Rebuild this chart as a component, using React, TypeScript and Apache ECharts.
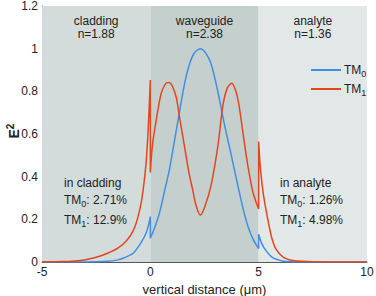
import React, { useEffect, useRef } from "react";
import * as echarts from "echarts";

// x ticks / y ticks
const xTicks = [-5, 0, 5, 10];
const yTicks = [0, 0.2, 0.4, 0.6, 0.8, 1, 1.2];
const yName = "E{sup|2}";

// region boundaries and labels
const regions = [
  { name: "cladding", n: "n=1.88", from: -5, to: 0, color: "#d3dcdb" },
  { name: "waveguide", n: "n=2.38", from: 0, to: 5, color: "#c5cfce" },
  { name: "analyte", n: "n=1.36", from: 5, to: 10, color: "#e2e8e7" },
];

// TM0
const tm0Cladding: [number, number][] = [
  [-5, 0], [-3, 0], [-2, 0.003], [-1.5, 0.01], [-1.2, 0.02], [-0.8, 0.04],
  [-0.6, 0.065], [-0.4, 0.095], [-0.2, 0.135], [-0.08, 0.175], [0, 0.213],
];
const tm0Waveguide: [number, number][] = [
  [0, 0.111], [0.2, 0.16], [0.42, 0.229], [0.65, 0.33], [0.88, 0.433], [1.1, 0.56],
  [1.34, 0.7], [1.57, 0.83], [1.77, 0.915], [2.0, 0.975], [2.31, 1.0], [2.55, 0.98],
  [2.8, 0.93], [3.12, 0.797], [3.43, 0.64], [3.74, 0.499], [4.04, 0.358],
  [4.27, 0.255], [4.5, 0.169], [4.75, 0.105], [5, 0.063],
];
const tm0Analyte: [number, number][] = [
  [5, 0.13], [5.15, 0.085], [5.32, 0.056], [5.63, 0.022], [6.1, 0.005],
  [6.5, 0.001], [7, 0], [10, 0],
];

// TM1
const tm1Cladding: [number, number][] = [
  [-5, 0], [-4, 0.002], [-3.5, 0.005], [-3, 0.011], [-2.5, 0.022], [-2, 0.04],
  [-1.5, 0.065], [-1.1, 0.1], [-0.8, 0.145], [-0.6, 0.2], [-0.4, 0.29],
  [-0.2, 0.46], [-0.1, 0.62], [0, 0.853],
];
const tm1Waveguide: [number, number][] = [
  [0, 0.42], [0.1, 0.55], [0.28, 0.67], [0.5, 0.79], [0.7, 0.835], [0.85, 0.841],
  [1.0, 0.828], [1.2, 0.77], [1.34, 0.684], [1.57, 0.546], [1.77, 0.425],
  [1.95, 0.34], [2.11, 0.265], [2.31, 0.22], [2.5, 0.255], [2.8, 0.358],
  [3.12, 0.546], [3.35, 0.734], [3.55, 0.815], [3.76, 0.838], [3.95, 0.8],
  [4.1, 0.73], [4.27, 0.609], [4.5, 0.452], [4.74, 0.326], [5, 0.248],
];
const tm1Analyte: [number, number][] = [
  [5, 0.565], [5.08, 0.44], [5.2, 0.33], [5.32, 0.255], [5.5, 0.16],
  [5.63, 0.104], [5.8, 0.06], [6.1, 0.025], [6.4, 0.011], [7, 0.003], [8, 0], [10, 0],
];

// annotations
const claddingNotes = ["in cladding", "TM{sub|0}: 2.71%", "TM{sub|1}: 12.9%"];
const analyteNotes = ["in analyte", "TM{sub|0}: 1.26%", "TM{sub|1}: 4.98%"];

const BLUE = "#3f8fe6";
const RED = "#e4461c";
const FONT = "Liberation Sans, Arial, sans-serif";

export default function App() {
  const ref = useRef<HTMLDivElement>(null);
  useEffect(() => {
    const chart = echarts.init(ref.current!, null, { renderer: "svg" });
    const gridLeft = 42, gridRight = 9, gridTop = 6, gridBottom = 34;
    const W = 376;
    const pw = W - gridLeft - gridRight;
    const xToPx = (x: number) => gridLeft + ((x + 5) / 15) * pw;
    const noteTexts: any[] = [];
    const noteY = [183, 200, 220];
    [claddingNotes, analyteNotes].forEach((notes, k) => {
      const x0 = k === 0 ? 64 : 280;
      notes.forEach((t, i) => {
        noteTexts.push({
          type: "text",
          x: x0,
          y: noteY[i],
          z: 100,
          style: {
            text: t,
            fontSize: 12,
            fontFamily: FONT,
            fill: "#222",
            verticalAlign: "middle",
            rich: { sub: { fontSize: 9, fontFamily: FONT, fill: "#222", padding: [7, 0, 0, 0] } },
          },
        });
      });
    });
    const regionTexts = regions.map((r) => ({
      type: "text",
      x: xToPx((r.from + r.to) / 2),
      y: 14,
      z: 100,
      style: {
        text: r.name + "\n" + r.n,
        fontSize: 12,
        fontFamily: FONT,
        fill: "#222",
        align: "center",
        verticalAlign: "top",
        lineHeight: 13,
      },
    }));
    const yNameText = {
      type: "text",
      x: 14,
      y: 131,
      rotation: Math.PI / 2,
      z: 100,
      style: {
        text: yName,
        fontSize: 14,
        fontWeight: "bold",
        fontFamily: FONT,
        fill: "#222",
        align: "center",
        verticalAlign: "middle",
        rich: { sup: { fontSize: 10, fontWeight: "bold", fontFamily: FONT, fill: "#222", padding: [0, 0, 8, 0] } },
      },
    };
    chart.setOption({
      animation: false,
      grid: {
        left: gridLeft, right: gridRight, top: gridTop, bottom: gridBottom,
        outerBoundsMode: "none", containLabel: false,
      },
      xAxis: {
        type: "value",
        min: xTicks[0],
        max: xTicks[xTicks.length - 1],
        interval: 5,
        name: "vertical distance (μm)",
        nameLocation: "middle",
        nameGap: 16,
        nameTextStyle: { fontSize: 13, fontFamily: FONT, color: "#222", verticalAlign: "top" },
        axisLine: { onZero: false, lineStyle: { color: "#555", width: 1 } },
        axisTick: { show: false },
        splitLine: { show: false },
        axisLabel: { fontSize: 12, fontFamily: FONT, color: "#222", margin: 4 },
      },
      yAxis: {
        type: "value",
        min: yTicks[0],
        max: yTicks[yTicks.length - 1],
        interval: 0.2,
        axisLine: { show: true, onZero: false, lineStyle: { color: "#555", width: 1 } },
        axisTick: { show: false },
        splitLine: { show: false },
        axisLabel: { fontSize: 12, fontFamily: FONT, color: "#222", margin: 4 },
      },
      legend: {
        orient: "vertical",
        left: 306,
        top: 59,
        itemWidth: 30,
        itemHeight: 2,
        itemGap: 5,
        icon: "rect",
        data: ["TM0", "TM1"],
        formatter: (n: string) => "TM{sub|" + n.slice(2) + "}",
        textStyle: {
          fontSize: 12,
          fontFamily: FONT,
          color: "#222",
          padding: [0, 0, 0, -2],
          rich: { sub: { fontSize: 9, fontFamily: FONT, color: "#222", padding: [7, 0, 0, 0] } },
        },
      },
      graphic: [...regionTexts, ...noteTexts, yNameText],
      series: [
        {
          name: "TM0",
          type: "line",
          data: [...tm0Cladding, ...tm0Waveguide, ...tm0Analyte],
          showSymbol: false,
          smooth: 0.3,
          lineStyle: { color: BLUE, width: 1.5 },
          itemStyle: { color: BLUE },
          z: 3,
          markArea: {
            silent: true,
            data: regions.map((r) => [
              { xAxis: r.from, itemStyle: { color: r.color, opacity: 1 } },
              { xAxis: r.to },
            ]),
          },
        },
        {
          name: "TM1",
          type: "line",
          data: [...tm1Cladding, ...tm1Waveguide, ...tm1Analyte],
          showSymbol: false,
          smooth: 0.3,
          lineStyle: { color: RED, width: 1.5 },
          itemStyle: { color: RED },
          z: 3,
        },
      ],
    });
    return () => chart.dispose();
  }, []);
  return (
    <div
      ref={ref}
      style={{ position: "fixed", left: 0, top: 0, width: 376, height: 296, background: "#fff" }}
    />
  );
}
